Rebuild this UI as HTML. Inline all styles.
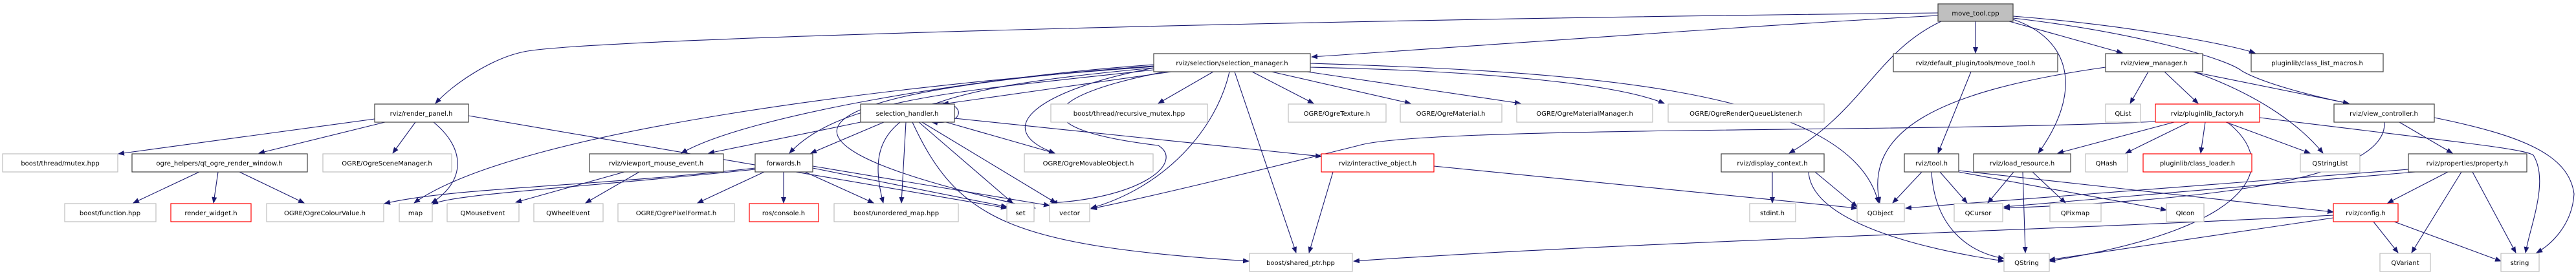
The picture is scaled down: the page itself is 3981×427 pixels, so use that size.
<!DOCTYPE html>
<html><head><meta charset="utf-8"><style>
html,body{margin:0;padding:0;background:#fff;}
svg{display:block;}
text{font-family:"DejaVu Sans","Liberation Sans",sans-serif;font-size:10px;fill:#000;text-anchor:middle;}
.e{fill:none;stroke:#191970;stroke-width:1.1;marker-end:url(#a);}
.b{fill:#fff;stroke:#404040;stroke-width:1.2;}
.g{fill:#fff;stroke:#bfbfbf;stroke-width:1.2;}
.r{fill:#fff;stroke:#ff0000;stroke-width:1.2;}
</style></head><body>
<svg width="3981" height="427" viewBox="0 0 3981 427" xmlns="http://www.w3.org/2000/svg">
<defs><marker id="a" markerWidth="10" markerHeight="8" refX="9" refY="4" orient="auto" markerUnits="userSpaceOnUse"><path d="M0,0 L10,4 L0,8 z" fill="#191970"/></marker></defs>
<g>
<path class="e" d="M2995,24 C2700,40 2300,70 2027,88"/>
<path class="e" d="M2995,20 C2000,30 900,60 810,80 C760,90 700,130 673,160"/>
<path class="e" d="M1783,100 C1500,120 1150,180 1053,237"/>
<path class="e" d="M3053,33 L3053,82"/>
<path class="e" d="M3105,33 L3280,82"/>
<path class="e" d="M3111,25 C3300,40 3450,70 3485,82"/>
<path class="e" d="M3111,28 C3300,50 3440,90 3465,110 C3500,130 3580,150 3630,160"/>
<path class="e" d="M3111,30 C3200,60 3220,140 3150,237"/>
<path class="e" d="M3000,33 C2900,80 2880,170 2765,237"/>
<path class="e" d="M3046,111 L2995,237"/>
<path class="e" d="M2025,98 C2400,110 2860,130 2903,314"/>
<path class="e" d="M3606,333 C3200,355 2500,375 2092,404"/>
<path class="e" d="M1875,111 L1790,160"/>
<path class="e" d="M1935,111 L2030,160"/>
<path class="e" d="M1965,111 L2180,160"/>
<path class="e" d="M2000,108 L2350,160"/>
<path class="e" d="M2025,104 C2300,110 2500,130 2572,160"/>
<path class="e" d="M1783,105 C1600,140 1530,200 1630,237"/>
<path class="e" d="M1800,111 C1600,150 1580,200 1790,225 C1830,250 1770,305 1625,314"/>
<path class="e" d="M1900,111 C1880,200 1800,290 1686,322"/>
<path class="e" d="M1908,111 L2003,391"/>
<path class="e" d="M1810,111 L1457,161"/>
<path class="e" d="M1783,108 C1500,140 1300,150 1220,237"/>
<path class="e" d="M1783,105 C1400,140 1330,180 1365,314"/>
<path class="e" d="M1783,103 C1400,130 800,200 640,314"/>
<path class="e" d="M1783,102 C1400,130 1000,190 1600,322"/>
<path class="e" d="M1475,183 L2042,242"/>
<path class="e" d="M579,184 L183,238"/>
<path class="e" d="M595,189 L400,237"/>
<path class="e" d="M642,189 L607,237"/>
<path class="e" d="M670,189 C720,230 720,280 667,314"/>
<path class="e" d="M724,179 L1556,322"/>
<path class="e" d="M308,266 L206,314"/>
<path class="e" d="M337,266 L330,314"/>
<path class="e" d="M370,266 L470,314"/>
<path class="e" d="M965,266 L797,313"/>
<path class="e" d="M988,266 L905,314"/>
<path class="e" d="M1181,266 L1078,314"/>
<path class="e" d="M1211,266 L1211,314"/>
<path class="e" d="M1244,266 L1350,314"/>
<path class="e" d="M1256,260 L1556,320"/>
<path class="e" d="M1256,257 L1622,318"/>
<path class="e" d="M1167,260 C900,290 700,290 594,315"/>
<path class="e" d="M1167,262 C900,290 700,300 668,316"/>
<path class="e" d="M1330,189 L1095,237"/>
<path class="e" d="M1366,189 L1253,237"/>
<path class="e" d="M1400,189 L1393,314"/>
<path class="e" d="M1462,189 L1630,237"/>
<path class="e" d="M1420,189 L1565,314"/>
<path class="e" d="M1425,189 L1632,314"/>
<path class="e" d="M1410,189 C1480,340 1560,380 1930,404"/>
<path class="e" d="M1440,161 C1490,150 1500,195 1440,189"/>
<path class="e" d="M2060,266 L2023,391"/>
<path class="e" d="M2216,257 L2870,322"/>
<path class="e" d="M2739,266 L2739,314"/>
<path class="e" d="M2805,266 L2870,320"/>
<path class="e" d="M2795,266 C2800,350 3000,390 3097,404"/>
<path class="e" d="M2970,266 L2925,314"/>
<path class="e" d="M2998,266 L3040,314"/>
<path class="e" d="M2985,266 C2990,350 3040,390 3097,400"/>
<path class="e" d="M3027,266 L3348,325"/>
<path class="e" d="M3027,264 L3606,328"/>
<path class="e" d="M3112,266 L3072,314"/>
<path class="e" d="M3126,266 L3130,391"/>
<path class="e" d="M3141,266 L3192,314"/>
<path class="e" d="M3320,111 L3292,160"/>
<path class="e" d="M3345,111 L3397,160"/>
<path class="e" d="M3254,104 C3000,140 2880,200 2905,314"/>
<path class="e" d="M3390,111 C3500,150 3560,200 3590,237"/>
<path class="e" d="M3388,111 L3630,160"/>
<path class="e" d="M3360,189 L3180,237"/>
<path class="e" d="M3383,189 L3285,237"/>
<path class="e" d="M3408,189 L3401,237"/>
<path class="e" d="M3440,189 L3570,237"/>
<path class="e" d="M3492,182 C3800,220 3900,230 3915,240 C3940,280 3910,350 3903,391"/>
<path class="e" d="M3442,189 C3520,250 3500,350 3167,404"/>
<path class="e" d="M3331,188 C3000,205 2200,195 2100,225 C2000,250 1800,300 1686,323"/>
<path class="e" d="M3708,189 L3790,237"/>
<path class="e" d="M3685,189 C3690,280 3400,310 3097,322"/>
<path class="e" d="M3762,182 C3900,210 3970,240 3978,300 C3975,350 3940,380 3920,391"/>
<path class="e" d="M3783,266 L3690,314"/>
<path class="e" d="M3804,266 L3727,391"/>
<path class="e" d="M3821,266 L3888,391"/>
<path class="e" d="M3722,262 L2945,322"/>
<path class="e" d="M3733,266 L3097,320"/>
<path class="e" d="M3668,343 L3706,391"/>
<path class="e" d="M3700,343 L3865,404"/>
<path class="e" d="M3606,337 L3167,402"/>
</g>
<g>
<rect x="2995" y="6" width="116" height="27" fill="#bfbfbf" stroke="#404040" stroke-width="1.2"/><text x="3053" y="24">move_tool.cpp</text>

<rect class="b" x="1783" y="83" width="242" height="28"/><text x="1904" y="101">rviz/selection/selection_manager.h</text>
<rect class="b" x="2926" y="83" width="254" height="28"/><text x="3053" y="101">rviz/default_plugin/tools/move_tool.h</text>
<rect class="b" x="3254" y="83" width="150" height="28"/><text x="3329" y="101">rviz/view_manager.h</text>
<rect class="b" x="3479" y="83" width="204" height="28"/><text x="3581" y="101">pluginlib/class_list_macros.h</text>

<rect class="b" x="579" y="161" width="145" height="28"/><text x="651" y="179">rviz/render_panel.h</text>
<rect class="b" x="1330" y="161" width="145" height="28"/><text x="1402" y="179">selection_handler.h</text>
<rect class="g" x="1624" y="161" width="242" height="28"/><text x="1745" y="179">boost/thread/recursive_mutex.hpp</text>
<rect class="g" x="1991" y="161" width="151" height="28"/><text x="2066" y="179">OGRE/OgreTexture.h</text>
<rect class="g" x="2164" y="161" width="157" height="28"/><text x="2242" y="179">OGRE/OgreMaterial.h</text>
<rect class="g" x="2344" y="161" width="210" height="28"/><text x="2449" y="179">OGRE/OgreMaterialManager.h</text>
<rect class="g" x="2578" y="161" width="241" height="28"/><text x="2698" y="179">OGRE/OgreRenderQueueListener.h</text>
<rect class="g" x="3254" y="161" width="54" height="28"/><text x="3281" y="179">QList</text>
<rect class="r" x="3331" y="161" width="161" height="28"/><text x="3411" y="179">rviz/pluginlib_factory.h</text>
<rect class="b" x="3607" y="161" width="155" height="28"/><text x="3684" y="179">rviz/view_controller.h</text>

<rect class="g" x="4" y="238" width="178" height="28"/><text x="93" y="256">boost/thread/mutex.hpp</text>
<rect class="b" x="204" y="238" width="271" height="28"/><text x="339" y="256">ogre_helpers/qt_ogre_render_window.h</text>
<rect class="g" x="499" y="238" width="199" height="28"/><text x="598" y="256">OGRE/OgreSceneManager.h</text>
<rect class="b" x="911" y="238" width="207" height="28"/><text x="1014" y="256">rviz/viewport_mouse_event.h</text>
<rect class="b" x="1167" y="238" width="89" height="28"/><text x="1211" y="256">forwards.h</text>
<rect class="g" x="1583" y="238" width="199" height="28"/><text x="1682" y="256">OGRE/OgreMovableObject.h</text>
<rect class="r" x="2042" y="238" width="174" height="28"/><text x="2129" y="256">rviz/interactive_object.h</text>
<rect class="b" x="2660" y="238" width="159" height="28"/><text x="2739" y="256">rviz/display_context.h</text>
<rect class="b" x="2943" y="238" width="84" height="28"/><text x="2985" y="256">rviz/tool.h</text>
<rect class="b" x="3050" y="238" width="150" height="28"/><text x="3125" y="256">rviz/load_resource.h</text>
<rect class="g" x="3223" y="238" width="65" height="28"/><text x="3255" y="256">QHash</text>
<rect class="r" x="3312" y="238" width="168" height="28"/><text x="3396" y="256">pluginlib/class_loader.h</text>
<rect class="g" x="3555" y="238" width="92" height="28"/><text x="3601" y="256">QStringList</text>
<rect class="b" x="3722" y="238" width="183" height="28"/><text x="3813" y="256">rviz/properties/property.h</text>

<rect class="g" x="100" y="315" width="141" height="28"/><text x="170" y="333">boost/function.hpp</text>
<rect class="r" x="264" y="315" width="124" height="28"/><text x="326" y="333">render_widget.h</text>
<rect class="g" x="412" y="315" width="181" height="28"/><text x="502" y="333">OGRE/OgreColourValue.h</text>
<rect class="g" x="617" y="315" width="51" height="28"/><text x="642" y="333">map</text>
<rect class="g" x="691" y="315" width="111" height="28"/><text x="746" y="333">QMouseEvent</text>
<rect class="g" x="825" y="315" width="107" height="28"/><text x="878" y="333">QWheelEvent</text>
<rect class="g" x="955" y="315" width="180" height="28"/><text x="1045" y="333">OGRE/OgrePixelFormat.h</text>
<rect class="r" x="1158" y="315" width="107" height="28"/><text x="1211" y="333">ros/console.h</text>
<rect class="g" x="1289" y="315" width="192" height="28"/><text x="1385" y="333">boost/unordered_map.hpp</text>
<rect class="g" x="1556" y="315" width="42" height="28"/><text x="1577" y="333">set</text>
<rect class="g" x="1622" y="315" width="62" height="28"/><text x="1653" y="333">vector</text>
<rect class="g" x="2704" y="315" width="71" height="28"/><text x="2739" y="333">stdint.h</text>
<rect class="g" x="2870" y="315" width="73" height="28"/><text x="2906" y="333">QObject</text>
<rect class="g" x="3020" y="315" width="75" height="28"/><text x="3057" y="333">QCursor</text>
<rect class="g" x="3168" y="315" width="79" height="28"/><text x="3207" y="333">QPixmap</text>
<rect class="g" x="3348" y="315" width="58" height="28"/><text x="3377" y="333">QIcon</text>
<rect class="r" x="3606" y="315" width="100" height="28"/><text x="3656" y="333">rviz/config.h</text>

<rect class="g" x="1931" y="392" width="159" height="28"/><text x="2010" y="410">boost/shared_ptr.hpp</text>
<rect class="g" x="3097" y="392" width="70" height="28"/><text x="3132" y="410">QString</text>
<rect class="g" x="3678" y="392" width="78" height="28"/><text x="3717" y="410">QVariant</text>
<rect class="g" x="3865" y="392" width="59" height="28"/><text x="3894" y="410">string</text>
</g>
</svg>
</body></html>
